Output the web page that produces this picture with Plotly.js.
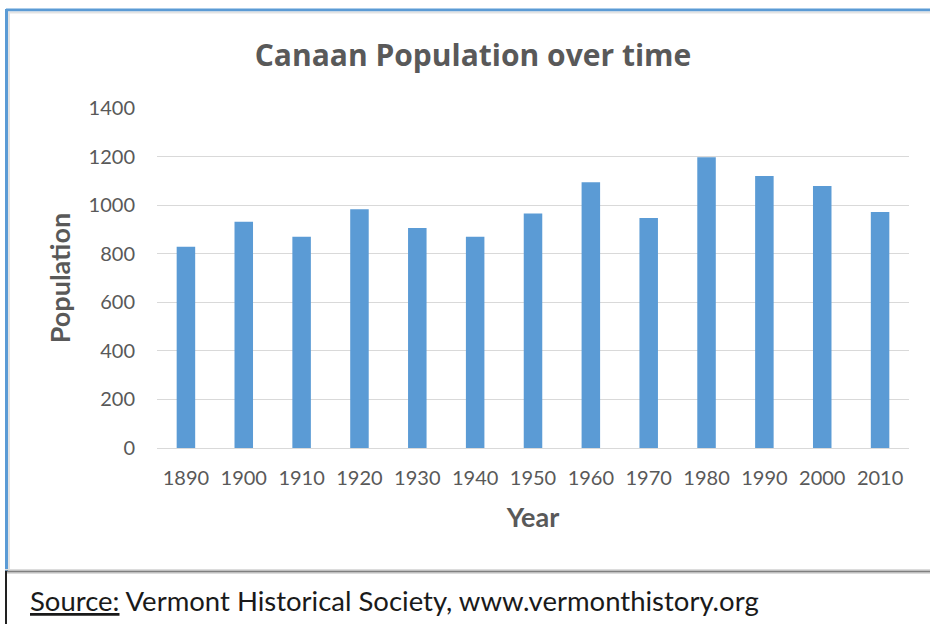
<!DOCTYPE html>
<html>
<head>
<meta charset="utf-8">
<script src="https://cdn.plot.ly/plotly-3.0.1.min.js"></script>
<style>
  html, body { margin: 0; padding: 0; background: #ffffff; }
  #chart { width: 930px; height: 624px; }
</style>
</head>
<body>
<div id="chart"></div>
<script>
// ---- data ----
const years = ['1890','1900','1910','1920','1930','1940','1950','1960','1970','1980','1990','2000','2010'];
const population = [829, 932, 870, 983, 906, 870, 966, 1094, 947, 1197, 1120, 1079, 972];
const yTicks = [0, 200, 400, 600, 800, 1000, 1200, 1400];

const chartTitle = 'Canaan Population over time';
const xTitle = 'Year';
const yTitle = 'Population';
const sourceLabel = 'Source:';
const sourceText = 'Vermont Historical Society, www.vermonthistory.org';

// ---- layout helpers (pixel -> paper) ----
const W = 930, H = 624;
const L = 157, R = 21, T = 108, B = 176;
const PW = W - L - R, PH = H - T - B;
const px = v => (v - L) / PW;
const py = v => (H - B - v) / PH;

const FONT = 'Lato, "Open Sans", sans-serif';

const trace = {
  type: 'bar',
  x: years,
  y: population,
  marker: { color: '#5b9bd5', line: { width: 0 } },
  hoverinfo: 'x+y'
};

const shapes = [
  // top blue frame line
  { type: 'line', xref: 'paper', yref: 'paper', x0: px(6), x1: px(930), y0: py(10), y1: py(10), line: { color: '#5b9bd5', width: 3 } },
  { type: 'line', xref: 'paper', yref: 'paper', x0: px(8), x1: px(930), y0: py(12.5), y1: py(12.5), line: { color: '#e3e3e3', width: 2 } },
  // left blue frame line
  { type: 'line', xref: 'paper', yref: 'paper', x0: px(6.5), x1: px(6.5), y0: py(9), y1: py(571), line: { color: '#5b9bd5', width: 3 } },
  { type: 'line', xref: 'paper', yref: 'paper', x0: px(9), x1: px(9), y0: py(12), y1: py(570), line: { color: '#e3e3e3', width: 2 } },
  // separator line
  { type: 'line', xref: 'paper', yref: 'paper', x0: px(5), x1: px(930), y0: py(569.5), y1: py(569.5), line: { color: '#dcdcdc', width: 1 } },
  { type: 'line', xref: 'paper', yref: 'paper', x0: px(5), x1: px(930), y0: py(571.5), y1: py(571.5), line: { color: '#808080', width: 2 } },
  { type: 'line', xref: 'paper', yref: 'paper', x0: px(5), x1: px(930), y0: py(573.5), y1: py(573.5), line: { color: '#dcdcdc', width: 1 } },
  // bottom black left line
  { type: 'line', xref: 'paper', yref: 'paper', x0: px(6), x1: px(6), y0: py(571), y1: py(624), line: { color: '#222222', width: 2 } }
];

const annotations = [
  {
    xref: 'paper', yref: 'paper', x: px(28), y: py(600),
    xanchor: 'left', yanchor: 'middle', showarrow: false,
    text: '<u>' + sourceLabel + '</u> ' + sourceText,
    font: { family: FONT, size: 27.5, color: '#1a1a1a' }
  }
];

const layout = {
  width: W, height: H,
  margin: { l: L, r: R, t: T, b: B, pad: 0 },
  paper_bgcolor: '#ffffff',
  plot_bgcolor: '#ffffff',
  showlegend: false,
  bargap: 0.68,
  font: { family: FONT, color: '#595959' },
  title: {
    text: '<b>' + chartTitle + '</b>',
    xref: 'container', yref: 'container',
    x: 473 / W, xanchor: 'center',
    y: 1 - 55 / H, yanchor: 'middle',
    font: { family: '"Open Sans", Lato, sans-serif', size: 30, color: '#595959' }
  },
  xaxis: {
    type: 'category',
    tickfont: { family: FONT, size: 20, color: '#595959' },
    ticks: '',
    showgrid: false,
    showline: true, linecolor: '#d9d9d9', linewidth: 1,
    ticklabelstandoff: 12,
    title: { text: '<b>' + xTitle + '</b>', font: { family: FONT, size: 27, color: '#595959' }, standoff: 20 },
    fixedrange: true
  },
  yaxis: {
    range: [0, 1400],
    tickvals: yTicks,
    ticktext: yTicks.map(String),
    tickfont: { family: FONT, size: 20, color: '#595959' },
    ticks: '',
    showgrid: true, gridcolor: '#d9d9d9', gridwidth: 1,
    zeroline: false,
    showline: false,
    ticklabelstandoff: 21,
    title: { text: '<b>' + yTitle + '</b>', font: { family: FONT, size: 27, color: '#595959' }, standoff: 10 },
    fixedrange: true
  },
  shapes: shapes,
  annotations: annotations
};

Plotly.newPlot('chart', [trace], layout, { displayModeBar: false, staticPlot: true });
</script>
</body>
</html>
